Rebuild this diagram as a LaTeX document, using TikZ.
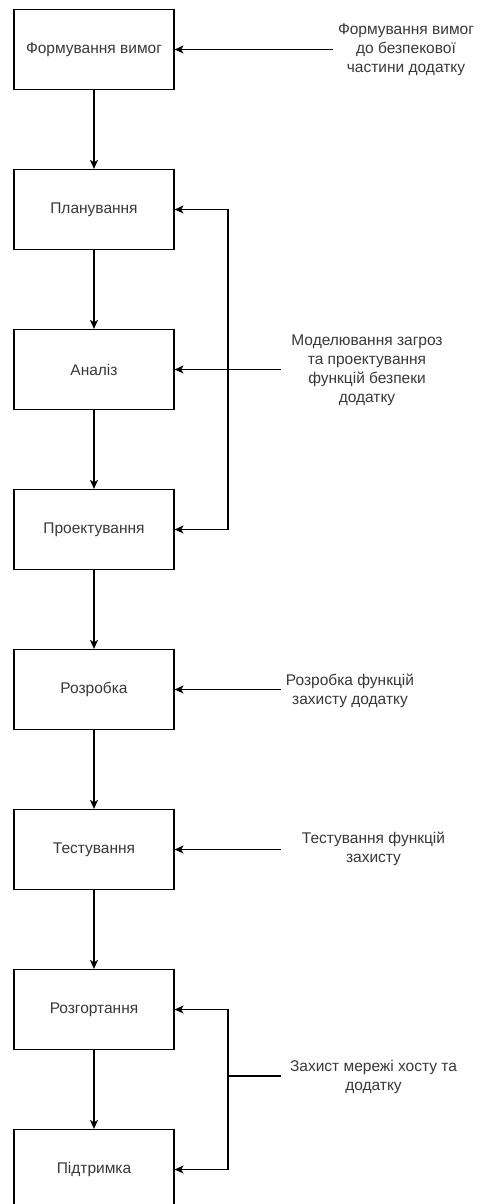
\documentclass[tikz,border=0pt]{standalone}
\usepackage{fontspec}
\setmainfont{Liberation Sans}
\usetikzlibrary{arrows.meta}
\begin{document}
\begin{tikzpicture}[x=1pt,y=-1pt,
  stage/.style={draw=black, line width=1.2pt, minimum width=160pt, minimum height=80pt,
    inner sep=0pt, font=\fontsize{15.5}{19}\selectfont, text=black!78},
  note/.style={align=center, inner sep=0pt, font=\fontsize{15.5}{19}\selectfont, text=black!78},
  flow/.style={line width=1.2pt, -{Stealth[length=9pt,width=8pt,inset=2.5pt]}},
  link/.style={line width=1.2pt}]
\useasboundingbox (0,0) rectangle (479,1204);
\begin{scope}
\clip (0,0) rectangle (479,1204);
% process stages
\node[stage] (s1) at (94,49.5)   {Формування вимог};
\node[stage] (s2) at (94,209.5)  {Планування};
\node[stage] (s3) at (94,369.5)  {Аналіз};
\node[stage] (s4) at (94,529.5)  {Проектування};
\node[stage] (s5) at (94,689.5)  {Розробка};
\node[stage] (s6) at (94,849.5)  {Тестування};
\node[stage] (s7) at (94,1009.5) {Розгортання};
\node[stage] (s8) at (94,1169.5) {Підтримка};
% stage sequence
\foreach \a/\b in {s1/s2,s2/s3,s3/s4,s4/s5,s5/s6,s6/s7,s7/s8}
  \draw[flow] (\a.south) -- (\b.north);
% security activities
\node[note] (n1) at (406,50)   {Формування вимог\\до безпекової\\частини додатку};
\node[note] (n2) at (367,370)  {Моделювання загроз\\та проектування\\функцій безпеки\\додатку};
\node[note] (n3) at (350,691)  {Розробка функцій\\захисту додатку};
\node[note] (n4) at (373.5,849){Тестування функцій\\захисту};
\node[note] (n5) at (373.5,1077){Захист мережі хосту та\\додатку};
% connector start points and junctions
\coordinate (m1) at (333,49.5);
\coordinate (m2) at (281,369.5);
\coordinate (m3) at (281,689.5);
\coordinate (m4) at (281,849.5);
\coordinate (m5) at (281,1076);
\coordinate (j1) at (228,369.5);
\coordinate (j2) at (228,1076);
\draw[flow] (m1) -- (s1.east);
\draw[flow] (m2) -- (s3.east);
\draw[flow] (j1) |- (s2.east);
\draw[flow] (j1) |- (s4.east);
\draw[flow] (m3) -- (s5.east);
\draw[flow] (m4) -- (s6.east);
\draw[link] (m5) -- (j2);
\draw[flow] (j2) |- (s7.east);
\draw[flow] (j2) |- (s8.east);
\end{scope}
\end{tikzpicture}
\end{document}
